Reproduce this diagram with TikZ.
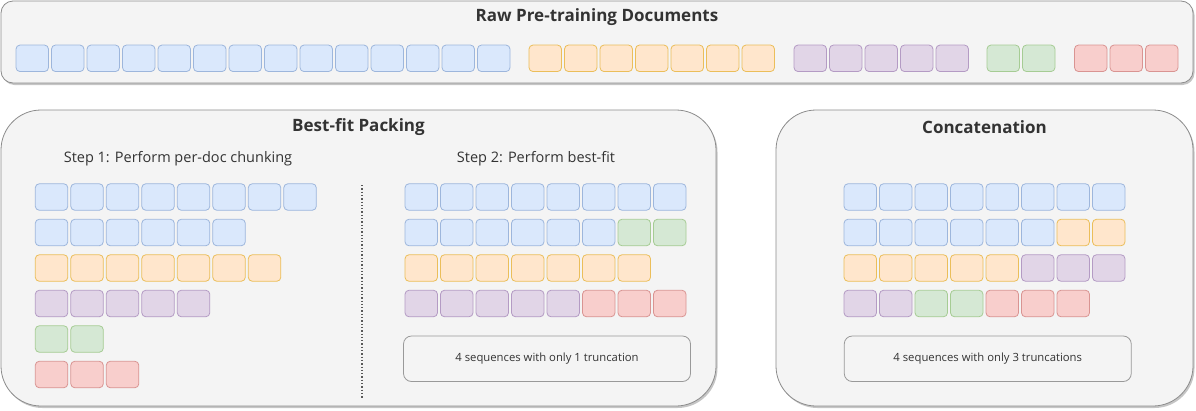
\documentclass[tikz,border=0pt]{standalone}
\usepackage{fontspec}
\setmainfont{Open Sans}
\usepackage{tikz}
\usetikzlibrary{positioning,shadows}

\definecolor{blF}{HTML}{DAE8FC}\definecolor{blD}{HTML}{9DB6DC}
\definecolor{ogF}{HTML}{FFE6CC}\definecolor{ogD}{HTML}{EBBE5A}
\definecolor{puF}{HTML}{E1D5E7}\definecolor{puD}{HTML}{B49BC4}
\definecolor{gnF}{HTML}{D5E8D4}\definecolor{gnD}{HTML}{A6CC94}
\definecolor{rdF}{HTML}{F8CECC}\definecolor{rdD}{HTML}{D99492}
\definecolor{panelF}{HTML}{F4F4F4}
\definecolor{inkC}{HTML}{333333}

% one row of chunks: name, left x, centre y, list of colours
\newcommand{\chunkrow}[4]{%
  \foreach \c [count=\i] in {#4} {%
    \ifnum\i=1
      \node[chunk,\c,anchor=west] (#1-1) at (#2,#3) {};
    \else
      \pgfmathtruncatemacro\prev{\i-1}
      \node[chunk,\c,right=3pt of #1-\prev] (#1-\i) {};
    \fi
  }}

\begin{document}
\begin{tikzpicture}[x=1pt,y=-1pt,font=\color{inkC},
  chunk/.style={rectangle,rounded corners=4pt,minimum width=32.5pt,
    minimum height=26.5pt,inner sep=0pt,outer sep=0pt,line width=0.8pt},
  bl/.style={fill=blF,draw=blD}, og/.style={fill=ogF,draw=ogD},
  pu/.style={fill=puF,draw=puD}, gn/.style={fill=gnF,draw=gnD},
  rd/.style={fill=rdF,draw=rdD},
  panel/.style={rectangle,fill=panelF,draw=black!45,line width=0.8pt,
    inner sep=0pt,outer sep=0pt,
    drop shadow={shadow xshift=1.5pt,shadow yshift=-2pt,fill=black!45,opacity=.5}},
  note/.style={rectangle,rounded corners=8pt,fill=panelF,draw=black!40,
    line width=0.8pt,minimum width=287pt,minimum height=45.5pt,
    font=\fontsize{11.3}{13}\selectfont\color{inkC}},
  head/.style={font=\fontsize{17}{20}\selectfont\bfseries\color{inkC}},
  steptext/.style={font=\fontsize{14.5}{17}\selectfont\color{inkC}}]
  \useasboundingbox (0,0) rectangle (1196,410);

  % the three panels
  \node[panel,rounded corners=12pt,minimum width=1192pt,minimum height=82pt]
    (raw) at (597,42) {};
  \node[panel,rounded corners=40pt,minimum width=715pt,minimum height=296pt]
    (best) at (358.5,258) {};
  \node[panel,rounded corners=40pt,minimum width=417pt,minimum height=296pt]
    (concat) at (984.5,258) {};

  \node[head] (rawtitle) at (597,17.5) {Raw Pre-training Documents};
  \node[head] (besttitle) at (358.5,127) {Best-fit Packing};
  \node[head] (concattitle) at (984.5,127) {Concatenation};
  \node[steptext] (step1) at (178,159) {Step 1: Perform per-doc chunking};
  \node[steptext] (step2) at (536,159) {Step 2: Perform best-fit};

  % raw documents
  \chunkrow{rawA}{16}{58.3}{bl,bl,bl,bl,bl,bl,bl,bl,bl,bl,bl,bl,bl,bl}
  \chunkrow{rawB}{529}{58.3}{og,og,og,og,og,og,og}
  \chunkrow{rawC}{794}{58.3}{pu,pu,pu,pu,pu}
  \chunkrow{rawD}{987}{58.3}{gn,gn}
  \chunkrow{rawE}{1074.5}{58.3}{rd,rd,rd}

  % step 1
  \chunkrow{sa}{35.3}{197}{bl,bl,bl,bl,bl,bl,bl,bl}
  \chunkrow{sb}{35.3}{232.5}{bl,bl,bl,bl,bl,bl}
  \chunkrow{sc}{35.3}{268}{og,og,og,og,og,og,og}
  \chunkrow{sd}{35.3}{303.5}{pu,pu,pu,pu,pu}
  \chunkrow{se}{35.3}{339}{gn,gn}
  \chunkrow{sf}{35.3}{374.5}{rd,rd,rd}

  \coordinate (dtop) at (362,185);
  \coordinate (dbot) at (362,398);
  \draw[dotted,line width=1.3pt,black!65] (dtop) -- (dbot);

  % step 2
  \chunkrow{ta}{405}{197}{bl,bl,bl,bl,bl,bl,bl,bl}
  \chunkrow{tb}{405}{232.5}{bl,bl,bl,bl,bl,bl,gn,gn}
  \chunkrow{tc}{405}{268}{og,og,og,og,og,og,og}
  \chunkrow{td}{405}{303.5}{pu,pu,pu,pu,pu,rd,rd,rd}
  \node[note] (bestnote) at (547,358.75) {4 sequences with only 1 truncation};

  % concatenation
  \chunkrow{ca}{844}{197}{bl,bl,bl,bl,bl,bl,bl,bl}
  \chunkrow{cb}{844}{232.5}{bl,bl,bl,bl,bl,bl,og,og}
  \chunkrow{cc}{844}{268}{og,og,og,og,og,pu,pu,pu}
  \chunkrow{cd}{844}{303.5}{pu,pu,gn,gn,rd,rd,rd}
  \node[note] (concatnote) at (987.75,358.75) {4 sequences with only 3 truncations};
\end{tikzpicture}
\end{document}
